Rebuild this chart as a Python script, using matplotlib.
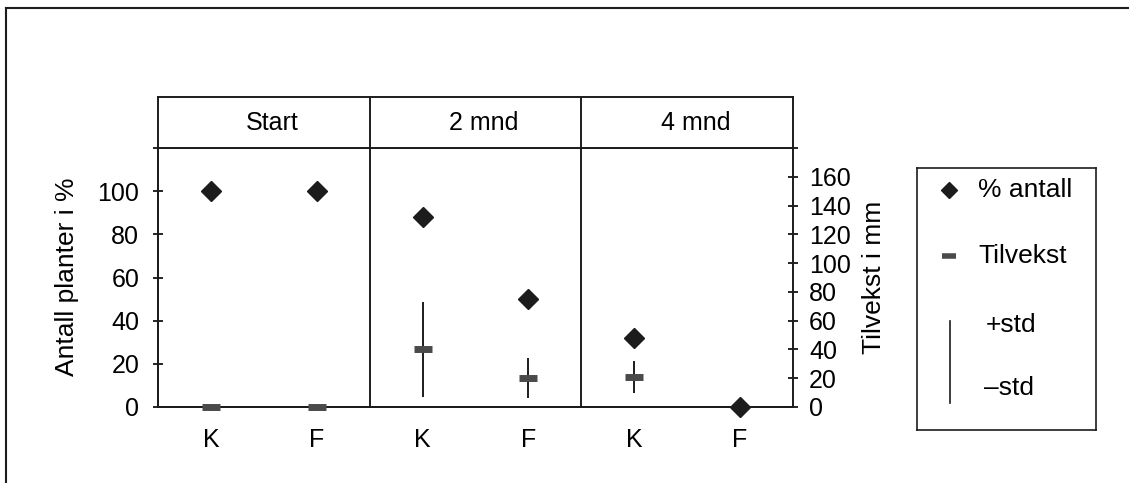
import matplotlib
matplotlib.use("Agg")
import matplotlib.pyplot as plt
from matplotlib.lines import Line2D
import numpy as np

# data
periods = ["Start", "2 mnd", "4 mnd"]
groups = ["K", "F", "K", "F", "K", "F"]
pct_antall = [100, 100, 88, 50, 32, 0]          # % antall planter (left axis)
tilvekst = [0, 0, 40, 20, 21, np.nan]           # tilvekst i mm (right axis)
tilvekst_std = [0, 0, 33, 14, 11, np.nan]
pct_ticks = [0, 20, 40, 60, 80, 100, 120]
mm_ticks = [0, 20, 40, 60, 80, 100, 120, 140, 160, 180]

plt.rcParams["font.family"] = ["Liberation Sans", "DejaVu Sans"]
INK = "#1c1c1c"
BAR = "#4a4a4a"

W, H = 1129, 483
fig = plt.figure(figsize=(W / 100, H / 100), dpi=100)


def box(x0, y0, x1, y1):
    return [x0 / W, 1 - y1 / H, (x1 - x0) / W, (y1 - y0) / H]


x = np.arange(len(groups))
tv = np.array(tilvekst, dtype=float)
sd = np.array(tilvekst_std, dtype=float)

ax = fig.add_axes(box(158, 148, 793, 407))
ax.set_xlim(-0.5, len(groups) - 0.5)
ax.set_ylim(0, 120)
ax.set_yticks(pct_ticks)
ax.set_yticklabels([str(t) if t <= 100 else "" for t in pct_ticks])
ax.set_xticks(x)
ax.set_xticklabels(groups)
ax.tick_params(axis="x", length=0, pad=15, labelsize=18)
ax.tick_params(axis="y", direction="inout", length=7, width=1.2, pad=10,
               labelsize=18)
for s in ax.spines.values():
    s.set_linewidth(1.4)
    s.set_color(INK)
ax.spines["right"].set_visible(False)

ax.plot(x, pct_antall, ls="none", marker="D", ms=10, color=INK,
        clip_on=False, zorder=5)
for xd in (1.5, 3.5):
    ax.axvline(xd, color=INK, lw=1.4)

ax2 = ax.twinx()
ax2.set_ylim(0, 180)
ax2.set_yticks(mm_ticks)
ax2.set_yticklabels([str(t) if t <= 160 else "" for t in mm_ticks])
ax2.tick_params(axis="y", direction="inout", length=7, width=1.2, pad=8,
                labelsize=18)
for s in ax2.spines.values():
    s.set_linewidth(1.4)
    s.set_color(INK)
ok = ~np.isnan(tv) & (sd > 0)
ax2.vlines(x[ok], tv[ok] - sd[ok], tv[ok] + sd[ok], color=INK, lw=1.4)
ax2.plot(x, tv, ls="none", marker="_", ms=12.5, mew=5, color=BAR,
         clip_on=False, zorder=5)

fig.text(67 / W, 1 - 277 / H, "Antall planter i %", rotation=90,
         ha="center", va="center", fontsize=19)
fig.text(874 / W, 1 - 277 / H, "Tilvekst i mm", rotation=90,
         ha="center", va="center", fontsize=19)

# header strip with period names
hd = fig.add_axes(box(158, 97, 793, 148))
hd.set_xlim(ax.get_xlim())
hd.set_ylim(0, 1)
hd.set_xticks([])
hd.set_yticks([])
for s in hd.spines.values():
    s.set_linewidth(1.4)
    s.set_color(INK)
for i, p in enumerate(periods):
    hd.text(2 * i + 0.5 + 0.08, 0.5, p, ha="center", va="center", fontsize=18)
for xd in (1.5, 3.5):
    hd.axvline(xd, color=INK, lw=1.4)

# legend box
lg = fig.add_axes(box(917, 168, 1096, 430))
lg.set_xlim(0, 179)
lg.set_ylim(262, 0)
lg.set_xticks([])
lg.set_yticks([])
for s in lg.spines.values():
    s.set_linewidth(1.2)
    s.set_color(INK)
lg.plot([32], [22], ls="none", marker="D", ms=8, color=INK)
lg.text(61, 22, "% antall", va="center", fontsize=19)
lg.plot([32], [88], ls="none", marker="_", ms=10, mew=4, color=BAR)
lg.text(61, 88, "Tilvekst", va="center", fontsize=19)
lg.plot([33, 33], [153, 235], color=INK, lw=1.2)
lg.text(69, 157, "+std", va="center", fontsize=19)
lg.text(67, 220, "\u2013std", va="center", fontsize=19)

# outer frame of the scanned page
fig.add_artist(Line2D([6 / W, 1], [1 - 8 / H, 1 - 8 / H], color=INK, lw=1.5))
fig.add_artist(Line2D([6 / W, 6 / W], [0, 1 - 8 / H], color=INK, lw=1.5))

fig.savefig("out.png", dpi=100)
